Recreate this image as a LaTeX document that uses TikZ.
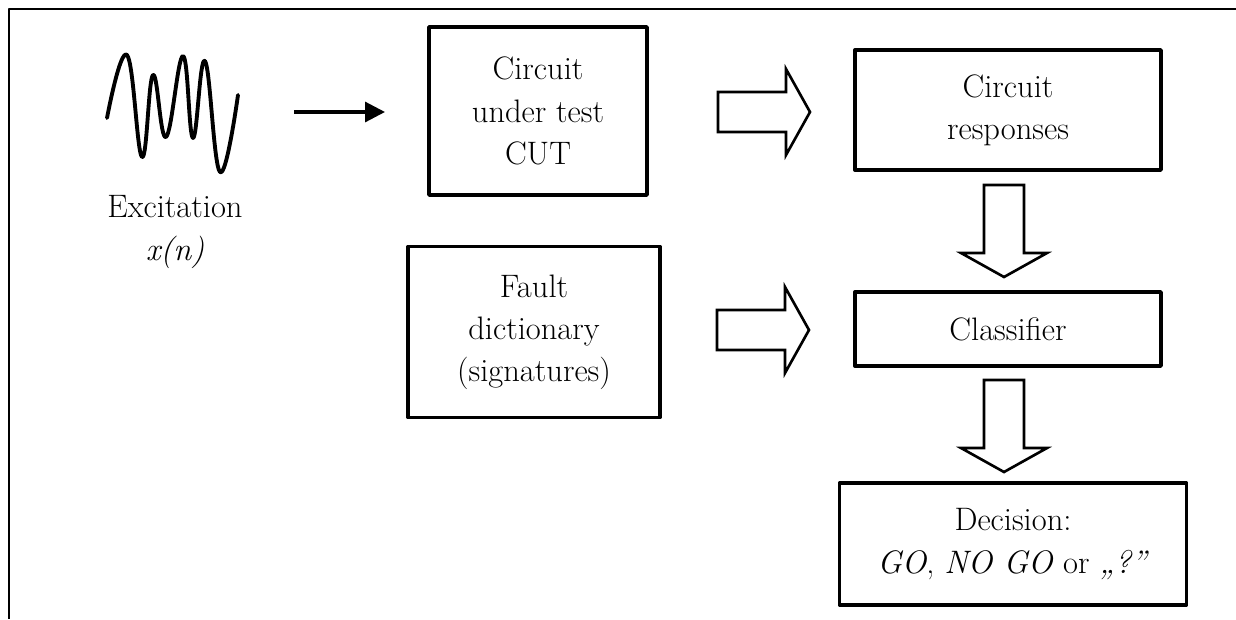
\documentclass[tikz,border=0pt]{standalone}
\usetikzlibrary{arrows.meta}

\tikzset{pics/fatarrow/.style={code={
  \draw[line width=1.5pt,line join=miter] (0,-20)--(68,-20)--(68,-43)--(92,0)--(68,43)--(68,20)--(0,20)--cycle;}}}

\begin{document}
\begin{tikzpicture}[x=0.02cm,y=-0.02cm,line cap=round,line join=round,
  font=\fontsize{18.5}{24}\selectfont,>={Triangle[length=0.4cm,width=0.4cm]},
  box/.style={draw,line width=2pt,align=center,inner sep=0pt}]
  \useasboundingbox (0,0) rectangle (1236,619);
  % frame
  \draw[line width=1.4pt,line cap=butt] (1236,9)--(9,9)--(9,619);
  % excitation signal
  \draw[line width=2.2pt,smooth,tension=.7] plot coordinates {(107,118) (127,55) (142,157)
    (153,75) (166,137) (183,56) (193,138) (205,61) (220,172) (238,95)};
  \node[align=center] (exc) at (175,232) {Excitation\\\textit{x(n)}};
  \coordinate (inS) at (294,112);
  \coordinate (inE) at (385,112);
  \draw[->,line width=1.8pt,line cap=butt] (inS)--(inE);
  % blocks
  \node[box,minimum width=4.36cm,minimum height=3.36cm] (cut) at (538,111) {Circuit\\under test\\CUT};
  \node[box,minimum width=5.04cm,minimum height=3.42cm] (dict) at (534,332) {Fault\\dictionary\\(signatures)};
  \node[box,minimum width=6.12cm,minimum height=2.4cm] (resp) at (1008,110) {Circuit\\responses};
  \node[box,minimum width=6.12cm,minimum height=1.48cm] (clas) at (1008,329) {Classifier};
  \node[box,minimum width=6.94cm,minimum height=2.44cm] (dec) at (1013,544)
    {Decision:\\\textit{GO}, \textit{NO GO} or \textit{„?”}};
  % fat arrows
  \coordinate (a1) at (718,112);
  \coordinate (a2) at (717,330);
  \coordinate (a3) at (1004,185);
  \coordinate (a4) at (1004,380);
  \pic at (a1) {fatarrow};
  \pic at (a2) {fatarrow};
  \pic[rotate=-90] at (a3) {fatarrow};
  \pic[rotate=-90] at (a4) {fatarrow};
\end{tikzpicture}
\end{document}
